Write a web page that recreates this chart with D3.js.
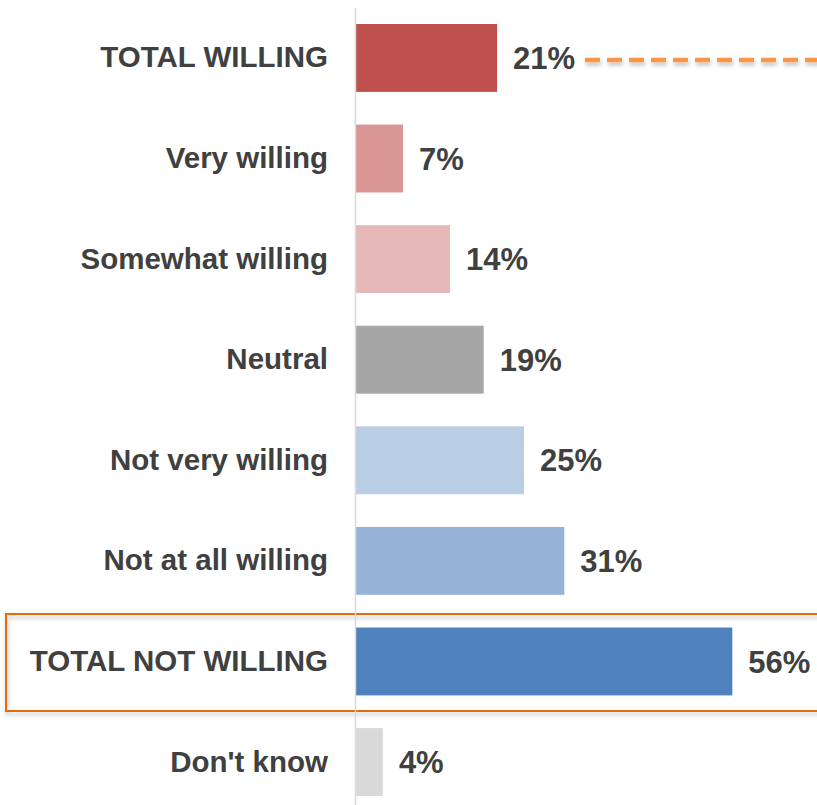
<!DOCTYPE html>
<html>
<head>
<meta charset="utf-8">
<script src="https://cdn.jsdelivr.net/npm/d3@7"></script>
<style>
html,body{margin:0;padding:0;background:#fff;}
svg{display:block;}
</style>
</head>
<body>
<svg id="chart" width="817" height="805"></svg>
<script>
const categories = ["TOTAL WILLING","Very willing","Somewhat willing","Neutral","Not very willing","Not at all willing","TOTAL NOT WILLING","Don't know"];
const values = [0.21, 0.07, 0.14, 0.19, 0.25, 0.31, 0.56, 0.04];
const colors = ["#c0504d","#d99694","#e6b9b8","#a6a6a6","#b9cde5","#95b3d7","#4f81bd","#d9d9d9"];
const valueLabels = ["21%","7%","14%","19%","25%","31%","56%","4%"];

const svg = d3.select("#chart");
const defs = svg.append("defs");
const f = defs.append("filter").attr("id","shadow")
  .attr("filterUnits","userSpaceOnUse")
  .attr("x",0).attr("y",0).attr("width",900).attr("height",805);
f.append("feDropShadow").attr("dx",1).attr("dy",3).attr("stdDeviation",2).attr("flood-color","#000").attr("flood-opacity",0.25);

const y = d3.scaleBand().domain(categories).range([24, 796]).paddingInner(0.325).paddingOuter(0);
const x = d3.scaleLinear().domain([0, 1]).range([356, 1028]);

const font = "Arial, 'Liberation Sans', Helvetica, sans-serif";

// highlight box
svg.append("rect")
  .attr("x", 6).attr("y", 614).attr("width", 840).attr("height", 97)
  .attr("fill", "none").attr("stroke", "#e46c0a").attr("stroke-width", 2)
  .attr("filter", "url(#shadow)");

// bars
svg.selectAll("rect.bar").data(categories).join("rect")
  .attr("class","bar")
  .attr("x", x(0))
  .attr("y", d => y(d))
  .attr("width", (d,i) => x(values[i]) - x(0))
  .attr("height", y.bandwidth())
  .attr("fill", (d,i) => colors[i]);

// vertical axis line
svg.append("line")
  .attr("x1", 355.5).attr("x2", 355.5).attr("y1", 8).attr("y2", 805)
  .attr("stroke", "#d9d9d9").attr("stroke-width", 1.5);

// category labels via axis
const ax = svg.append("g").attr("transform", "translate(356,0)")
  .call(d3.axisLeft(y).tickSize(0).tickPadding(28));
ax.select(".domain").remove();
ax.selectAll("text")
  .attr("font-family", font).attr("font-size", "29.5px").attr("font-weight", "bold")
  .attr("fill", "#404040");

// value labels
svg.selectAll("text.val").data(categories).join("text")
  .attr("class","val")
  .attr("x", (d,i) => x(values[i]) + 16)
  .attr("y", d => y(d) + y.bandwidth()/2)
  .attr("dy", "0.36em")
  .attr("font-family", font).attr("font-size", "31px").attr("font-weight", "bold")
  .attr("fill", "#404040")
  .text((d,i) => valueLabels[i]);

// dashed callout line
const yc = y(categories[0]) + y.bandwidth()/2 + 2;
svg.append("line")
  .attr("x1", 585).attr("x2", 830).attr("y1", yc).attr("y2", yc)
  .attr("stroke", "#f79646").attr("stroke-width", 4.5)
  .attr("stroke-dasharray", "15,7")
  .attr("filter", "url(#shadow)");
</script>
</body>
</html>
